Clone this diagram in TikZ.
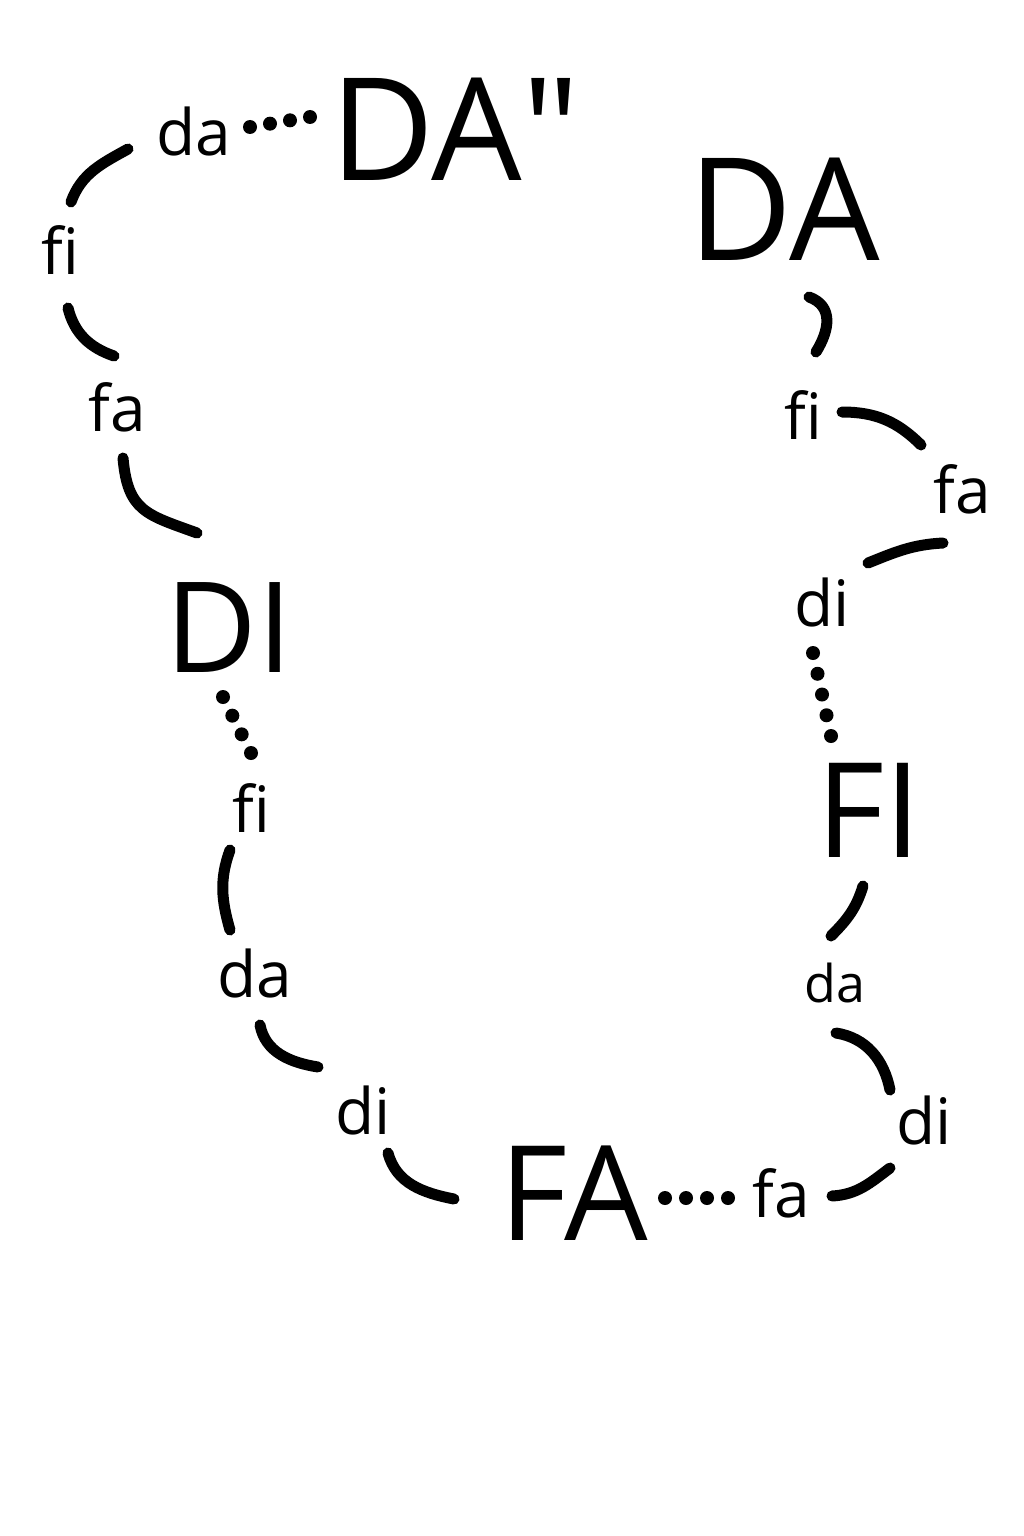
\documentclass[tikz,border=0pt]{standalone}
\usepackage{fontspec}
\setmainfont{Open Sans}
\usetikzlibrary{calc}

\tikzset{
  tone/.style={inner sep=0pt, font=\fontsize{#1}{#1}\selectfont},
  syl/.style={inner sep=0pt, font=\fontsize{#1}{#1}\selectfont},
  syl/.default=64,
  link/.style={line width=11pt, line cap=round},
}

\begin{document}
\begin{tikzpicture}[x=1pt,y=1pt]
        \useasboundingbox (0,0) rectangle (1024,-1536);
        \node[tone=143] (DApp) at (455,-129) {DA\textquotedbl};
        \node[tone=143] (DA) at (784,-209) {DA};
        \node[tone=126] (DI) at (229,-628) {DI};
        \node[tone=132] (FI) at (869,-810) {FI};
        \node[tone=132] (FA) at (574,-1193) {FA};
        \node[syl] (da1) at (194,-131) {da};
        \node[syl] (fi1) at (60,-250) {fi};
        \node[syl] (fa1) at (117,-407) {fa};
        \node[syl] (fi2) at (251,-808) {fi};
        \node[syl] (da2) at (255,-973) {da};
        \node[syl] (di1) at (363,-1110) {di};
        \node[syl] (fa3) at (781,-1193) {fa};
        \node[syl] (di3) at (924,-1120) {di};
        \node[syl=52] (da3) at (835,-983) {da};
        \node[syl] (di2) at (822,-602) {di};
        \node[syl] (fa2) at (962,-489) {fa};
        \node[syl] (fi3) at (803,-415) {fi};
        \draw[link] ($(da1)+(-66,-18)$) to[out=209,in=70] ($(fi1)+(11,48)$);
        \draw[link] ($(fi1)+(8,-58)$) to[out=284,in=161] ($(fa1)+(-3,51)$);
        \draw[link] ($(fa1)+(6,-51)$) to[out=275,in=160,looseness=1.3] ($(DI)+(-32,95)$);
        \draw[link] ($(fi2)+(-21,-42)$) to[out=250,in=106] ($(da2)+(-25,43)$);
        \draw[link] ($(da2)+(5,-52)$) to[out=281,in=171] ($(di1)+(-45,43)$);
        \draw[link] ($(di1)+(25,-43)$) to[out=285,in=169] ($(FA)+(-120,-6)$);
        \draw[link] ($(fa3)+(51,-3)$) to[out=3,in=217] ($(di3)+(-34,-48)$);
        \draw[link] ($(di3)+(-34,30)$) to[out=101,in=351] ($(da3)+(1,-50)$);
        \draw[link] ($(da3)+(-4,47)$) to[out=45,in=253] ($(FI)+(-6,-76)$);
        \draw[link] ($(di2)+(46,39)$) to[out=22,in=183] ($(fa2)+(-19,-54)$);
        \draw[link] ($(fa2)+(-41,44)$) to[out=135,in=0] ($(fi3)+(39,3)$);
        \draw[link] ($(fi3)+(13,63)$) to[out=58,in=340,looseness=1.2] ($(DA)+(25,-88)$);
        \coordinate (p1) at ($(da1)+(56,4)$);
        \coordinate (p2) at ($(DApp)+(-145,12)$);
        \coordinate (q1) at ($(DI)+(-6,-69)$);
        \coordinate (q2) at ($(fi2)+(0,55)$);
        \coordinate (r1) at ($(FA)+(91,-5)$);
        \coordinate (r2) at ($(fa3)+(-53,-5)$);
        \coordinate (s1) at ($(FI)+(-38,74)$);
        \coordinate (s2) at ($(di2)+(-9,-51)$);
        \foreach \i in {0,...,3} \fill ($(p1)!\i/3!(p2)$) circle (7);
        \foreach \i in {0,...,3} \fill ($(q1)!\i/3!(q2)$) circle (7);
        \foreach \i in {0,...,3} \fill ($(r1)!\i/3!(r2)$) circle (7);
        \foreach \i in {0,...,4} \fill ($(s1)!\i/4!(s2)$) circle (7);
    \end{tikzpicture}
\end{document}
